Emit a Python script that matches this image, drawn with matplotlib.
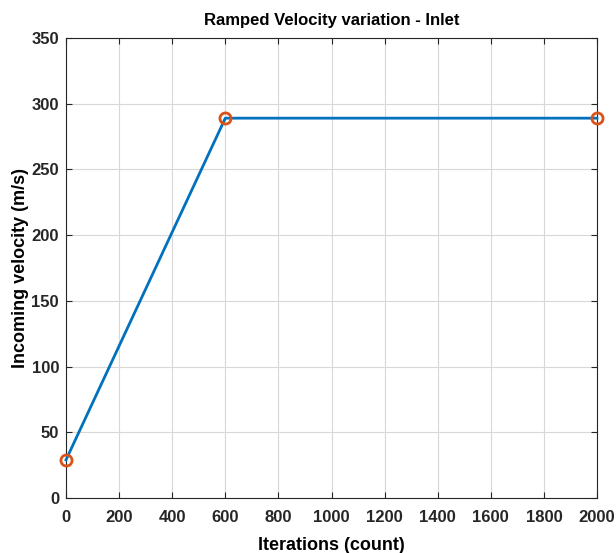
import numpy as np
import matplotlib
matplotlib.use('Agg')
import matplotlib.pyplot as plt

plt.rcParams['font.family'] = ['Liberation Sans', 'DejaVu Sans']
plt.rcParams['font.weight'] = 'bold'

iterations = [0, 600, 2000]
velocity = [29, 289, 289]

fig = plt.figure(figsize=(6.16, 5.53), dpi=100)
ax = fig.add_axes([66 / 616, 1 - 498 / 553, (597 - 66) / 616, (498 - 38) / 553])

ax.plot(iterations, velocity, color='#0072BD', linewidth=2, zorder=3, clip_on=False)
ax.plot(iterations, velocity, 'o', color='#D95319', markerfacecolor='none',
        markersize=8, markeredgewidth=2, zorder=4, clip_on=False)

ax.set_xlim(0, 2000)
ax.set_ylim(0, 350)
ax.set_xticks(np.arange(0, 2001, 200))
ax.set_yticks(np.arange(0, 351, 50))
ax.grid(True, color='#d8d8d8', linewidth=0.8)
ax.set_axisbelow(True)

ax.tick_params(direction='in', top=True, right=True, length=4, labelsize=12,
               colors='#262626', width=0.8)
ax.tick_params(axis='x', pad=9)
ax.tick_params(axis='y', pad=5)
for lbl in ax.get_xticklabels() + ax.get_yticklabels():
    lbl.set_fontweight('bold')
for s in ax.spines.values():
    s.set_color('#262626')
    s.set_linewidth(0.8)

ax.set_xlabel('Iterations (count)', fontsize=13, fontweight='bold', labelpad=8)
ax.set_ylabel('Incoming velocity (m/s)', fontsize=13, fontweight='bold', labelpad=2)
ax.set_title('Ramped Velocity variation - Inlet', fontsize=12, fontweight='bold', pad=9)

fig.savefig('out.png', dpi=100)
